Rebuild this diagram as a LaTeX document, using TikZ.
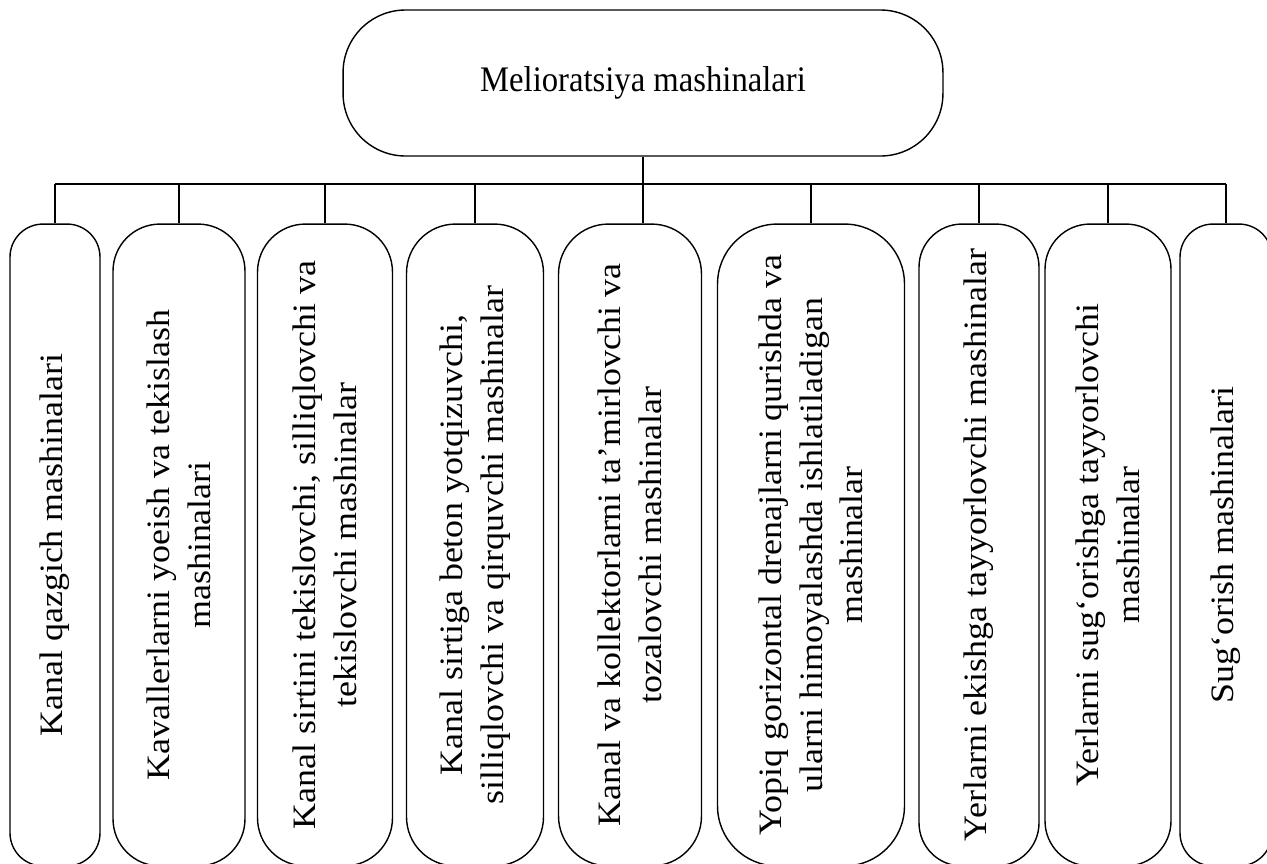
\documentclass[tikz,border=0pt]{standalone}
\usepackage{fontspec}
\setmainfont{Liberation Serif}
\usepackage{tikz}

\tikzset{
  kutu/.style={draw, line width=0.8pt, align=center, inner sep=0pt,
    font=\fontsize{18.6}{23}\selectfont},
  mashina/.style={kutu, rotate=90, xscale=1.1, minimum width=11.673cm}
}

\begin{document}
\begin{tikzpicture}[x=0.02cm, y=-0.02cm, line width=0.8pt]
\useasboundingbox (0,0) rectangle (1267,863);
\node[kutu, yscale=1.1, rounded corners=1.25cm, minimum width=12cm, minimum height=2.655cm] (bosh) at (643,83) {Melioratsiya mashinalari};
\coordinate (bar) at (0,184);
\node[mashina, minimum height=1.8cm, rounded corners=0.66cm] (m1) at (55,545) {Kanal qazgich mashinalari};
\node[mashina, minimum height=2.64cm, rounded corners=0.94cm] (m2) at (179,545) {Kavallerlarni yoeish va tekislash\\mashinalari};
\node[mashina, minimum height=2.7cm, rounded corners=0.96cm] (m3) at (325,545) {Kanal sirtini tekislovchi,  silliqlovchi va\\tekislovchi mashinalar};
\node[mashina, minimum height=2.74cm, rounded corners=0.98cm] (m4) at (475,545) {Kanal sirtiga beton yotqizuvchi,\\silliqlovchi va qirquvchi mashinalar};
\node[mashina, minimum height=2.86cm, rounded corners=1.0cm] (m5) at (630,545) {Kanal va kollektorlarni ta’mirlovchi va\\tozalovchi mashinalar};
\node[mashina, minimum height=3.74cm, rounded corners=1.2cm] (m6) at (811,545) {Yopiq gorizontal drenajlarni qurishda va\\ularni himoyalashda ishlatiladigan\\mashinalar};
\node[mashina, minimum height=2.4cm, rounded corners=0.86cm] (m7) at (979,545) {Yerlarni ekishga tayyorlovchi mashinalar};
\node[mashina, minimum height=2.52cm, rounded corners=0.9cm] (m8) at (1108,545) {Yerlarni sug‘orishga tayyorlovchi\\mashinalar};
\node[mashina, minimum height=1.84cm, rounded corners=0.66cm] (m9) at (1226,545) {Sug‘orish mashinalari};
\draw (bosh.south) -- (bosh.south |- m5.east);
\draw (m1.east |- bar) -- (m9.east |- bar);
\draw (m1.east) -- (m1.east |- bar);
\draw (m2.east) -- (m2.east |- bar);
\draw (m3.east) -- (m3.east |- bar);
\draw (m4.east) -- (m4.east |- bar);
\draw (m6.east) -- (m6.east |- bar);
\draw (m7.east) -- (m7.east |- bar);
\draw (m8.east) -- (m8.east |- bar);
\draw (m9.east) -- (m9.east |- bar);
\end{tikzpicture}
\end{document}
